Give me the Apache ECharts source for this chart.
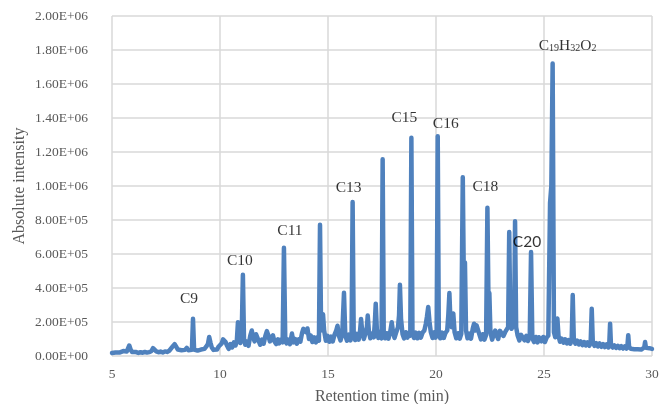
<!DOCTYPE html>
<html>
<head>
<meta charset="utf-8">
<style>
  html, body { margin: 0; padding: 0; background: #ffffff; }
  #chart { width: 664px; height: 404px; }
</style>
<script src="https://cdn.jsdelivr.net/npm/echarts@6/dist/echarts.min.js"></script>
</head>
<body>
<div id="chart"></div>
<script>
// Total ion chromatogram: [retention time (min), absolute intensity]
const signal = [
  [5.00,18e3],[5.08,26e3],[5.16,21e3],[5.25,27e3],[5.34,20e3],[5.43,25e3],[5.52,29e3],[5.60,22e3],
  [5.68,26e3],[5.74,34e3],[5.80,62e3],[5.86,38e3],[5.93,24e3],[6.02,19e3],[6.12,23e3],[6.22,18e3],
  [6.32,22e3],[6.42,19e3],[6.52,24e3],[6.62,20e3],[6.72,23e3],[6.82,28e3],[6.90,46e3],[6.97,40e3],
  [7.05,27e3],[7.15,22e3],[7.25,26e3],[7.35,21e3],[7.45,27e3],[7.55,24e3],[7.65,31e3],[7.74,42e3],
  [7.82,58e3],[7.90,70e3],[7.97,55e3],[8.05,38e3],[8.14,30e3],[8.22,34e3],[8.30,28e3],[8.38,36e3],
  [8.46,48e3],[8.54,34e3],[8.62,30e3],[8.70,36e3],[8.75,219e3],[8.80,38e3],[8.88,28e3],[8.96,32e3],
  [9.04,26e3],[9.12,38e3],[9.20,30e3],[9.28,42e3],[9.36,55e3],[9.44,70e3],[9.50,112e3],[9.56,78e3],
  [9.62,50e3],[9.70,36e3],[9.78,44e3],[9.86,38e3],[9.94,56e3],[10.02,48e3],[10.08,74e3],[10.14,98e3],
  [10.20,108e3],[10.26,82e3],[10.33,60e3],[10.40,42e3],[10.48,70e3],[10.56,50e3],[10.64,80e3],[10.72,62e3],
  [10.78,92e3],[10.83,198e3],[10.88,110e3],[10.94,76e3],[11.00,100e3],[11.06,478e3],[11.11,102e3],[11.17,66e3],
  [11.24,84e3],[11.32,60e3],[11.40,118e3],[11.47,150e3],[11.53,112e3],[11.60,86e3],[11.67,128e3],[11.72,136e3],
  [11.78,92e3],[11.86,66e3],[11.94,96e3],[12.02,72e3],[12.10,118e3],[12.17,146e3],[12.24,120e3],[12.31,86e3],
  [12.38,110e3],[12.45,122e3],[12.52,86e3],[12.60,70e3],[12.68,98e3],[12.74,74e3],[12.82,96e3],[12.90,80e3],
  [12.96,637e3],[13.02,112e3],[13.08,74e3],[13.16,96e3],[13.24,70e3],[13.33,132e3],[13.40,80e3],[13.48,100e3],
  [13.56,72e3],[13.64,98e3],[13.72,84e3],[13.80,136e3],[13.86,160e3],[13.92,170e3],[13.98,140e3],[14.05,162e3],
  [14.12,100e3],[14.20,120e3],[14.28,82e3],[14.36,110e3],[14.44,80e3],[14.52,112e3],[14.58,90e3],[14.63,772e3],
  [14.68,150e3],[14.73,210e3],[14.77,245e3],[14.82,150e3],[14.90,90e3],[14.98,118e3],[15.06,84e3],[15.14,114e3],
  [15.22,86e3],[15.30,124e3],[15.38,150e3],[15.44,178e3],[15.50,120e3],[15.58,92e3],[15.66,130e3],[15.74,372e3],
  [15.80,120e3],[15.88,90e3],[15.96,126e3],[16.04,92e3],[16.09,118e3],[16.14,906e3],[16.19,124e3],[16.26,94e3],
  [16.34,130e3],[16.42,96e3],[16.48,140e3],[16.53,218e3],[16.58,150e3],[16.66,100e3],[16.74,136e3],[16.80,170e3],
  [16.84,238e3],[16.89,150e3],[16.96,104e3],[17.04,132e3],[17.12,110e3],[17.17,200e3],[17.21,308e3],[17.26,160e3],
  [17.33,106e3],[17.40,134e3],[17.48,104e3],[17.53,1157e3],[17.58,136e3],[17.65,104e3],[17.72,134e3],[17.80,102e3],
  [17.88,140e3],[17.95,198e3],[18.01,140e3],[18.08,106e3],[18.16,140e3],[18.24,170e3],[18.29,240e3],[18.33,419e3],
  [18.38,220e3],[18.45,130e3],[18.52,104e3],[18.60,140e3],[18.68,108e3],[18.76,138e3],[18.81,120e3],[18.86,1284e3],
  [18.91,136e3],[18.98,106e3],[19.06,138e3],[19.14,104e3],[19.22,136e3],[19.30,108e3],[19.38,138e3],[19.46,150e3],
  [19.53,190e3],[19.58,230e3],[19.64,288e3],[19.70,200e3],[19.76,140e3],[19.84,106e3],[19.92,140e3],[19.98,108e3],
  [20.03,132e3],[20.08,1292e3],[20.13,136e3],[20.20,104e3],[20.28,138e3],[20.36,106e3],[20.44,136e3],[20.52,150e3],
  [20.57,240e3],[20.62,370e3],[20.67,200e3],[20.72,170e3],[20.80,250e3],[20.86,140e3],[20.94,104e3],[21.02,134e3],
  [21.10,102e3],[21.17,130e3],[21.24,1051e3],[21.29,420e3],[21.34,550e3],[21.39,150e3],[21.46,104e3],[21.54,132e3],
  [21.62,102e3],[21.70,160e3],[21.76,190e3],[21.82,150e3],[21.88,180e3],[21.94,190e3],[22.00,130e3],[22.08,98e3],
  [22.16,128e3],[22.24,96e3],[22.32,124e3],[22.38,872e3],[22.44,200e3],[22.47,370e3],[22.52,140e3],[22.60,96e3],
  [22.68,130e3],[22.74,150e3],[22.80,124e3],[22.88,100e3],[22.96,148e3],[23.04,150e3],[23.12,118e3],[23.20,140e3],
  [23.28,148e3],[23.34,170e3],[23.39,729e3],[23.44,200e3],[23.50,160e3],[23.56,180e3],[23.62,220e3],[23.66,792e3],
  [23.71,170e3],[23.78,120e3],[23.86,92e3],[23.94,124e3],[24.03,135e3],[24.10,92e3],[24.18,118e3],[24.26,88e3],
  [24.34,116e3],[24.40,612e3],[24.46,104e3],[24.54,82e3],[24.62,112e3],[24.70,80e3],[24.76,110e3],[24.81,120e3],
  [24.88,86e3],[24.96,112e3],[25.04,82e3],[25.12,108e3],[25.20,120e3],[25.28,900e3],[25.34,1000e3],[25.40,1720e3],
  [25.46,140e3],[25.52,110e3],[25.58,180e3],[25.62,220e3],[25.67,120e3],[25.74,84e3],[25.82,102e3],[25.90,78e3],
  [25.98,98e3],[26.06,74e3],[26.14,94e3],[26.22,72e3],[26.28,92e3],[26.33,359e3],[26.38,96e3],[26.46,72e3],
  [26.54,90e3],[26.62,68e3],[26.70,86e3],[26.78,64e3],[26.86,82e3],[26.94,62e3],[27.02,80e3],[27.10,60e3],
  [27.16,80e3],[27.21,278e3],[27.26,78e3],[27.34,60e3],[27.42,76e3],[27.50,56e3],[27.58,74e3],[27.66,54e3],
  [27.74,70e3],[27.82,52e3],[27.90,68e3],[27.98,50e3],[28.02,66e3],[28.06,190e3],[28.10,64e3],[28.18,50e3],
  [28.26,62e3],[28.34,48e3],[28.42,60e3],[28.50,46e3],[28.58,58e3],[28.66,44e3],[28.74,56e3],[28.82,44e3],
  [28.86,56e3],[28.90,122e3],[28.94,54e3],[29.02,42e3],[29.10,52e3],[29.18,40e3],[29.26,50e3],[29.34,39e3],
  [29.42,48e3],[29.50,38e3],[29.58,47e3],[29.64,50e3],[29.68,82e3],[29.72,48e3],[29.80,38e3],[29.88,46e3],
  [29.96,36e3],[30.00,42e3]
];

// Annotated compounds and the retention time of their apex
const peakNames = ['C9', 'C10', 'C11', 'C13', 'C15', 'C16', 'C18', 'C20', 'C19H32O2'];
const peakTimes = [8.75, 11.06, 12.96, 16.14, 18.86, 20.08, 22.38, 24.40, 25.40];

// Axis ranges and ticks
const xTicks = [5, 10, 15, 20, 25, 30];
const yMax = 2.0e6;
const yStep = 2.0e5;

// Label placement relative to each apex, in pixels [dx, dy]
const labelOffsets = {
  'C9': [-4, -20], 'C10': [-3, -14], 'C11': [6, -17], 'C13': [-4, -14],
  'C15': [-7, -20], 'C16': [8, -12], 'C18': [-2, -21], 'C20': [-4, -10],
  'C19H32O2': [15, -18]
};

const serif = '"Liberation Serif", "Times New Roman", serif';
const grey = '#595959';
const gridColor = '#d9d9d9';

function sci(v) {
  if (v === 0) return '0.00E+00';
  const e = Math.floor(Math.log10(Math.abs(v)) + 1e-9);
  const m = v / Math.pow(10, e);
  const sign = e < 0 ? '-' : '+';
  const ee = String(Math.abs(e)).padStart(2, '0');
  return m.toFixed(2) + 'E' + sign + ee;
}

function apexValue(t) {
  const p = signal.find(d => Math.abs(d[0] - t) < 1e-6);
  return p ? p[1] : 0;
}

function labelText(name) {
  if (name === 'C19H32O2') {
    return '{n|C}{s|19}{n|H}{s|32}{n|O}{s|2}';
  }
  if (name === 'C20') return '{sans|C20}';
  return '{n|' + name + '}';
}

const labelData = peakNames.map((name, i) => ({
  value: [peakTimes[i], apexValue(peakTimes[i])],
  name: name,
  label: { offset: labelOffsets[name] }
}));

const chart = echarts.init(document.getElementById('chart'), null, { renderer: 'canvas' });

chart.setOption({
  animation: false,
  backgroundColor: '#ffffff',
  grid: { left: 112, right: 12, top: 16, bottom: 48, containLabel: false, outerBoundsMode: 'none' },
  xAxis: {
    type: 'value',
    min: xTicks[0],
    max: xTicks[xTicks.length - 1],
    interval: xTicks[1] - xTicks[0],
    name: 'Retention time (min)',
    nameLocation: 'middle',
    nameGap: 33,
    nameMoveOverlap: false,
    nameTextStyle: { fontFamily: serif, fontSize: 16, color: grey },
    axisLine: { show: false },
    axisTick: { show: false },
    axisLabel: { fontFamily: serif, fontSize: 13.5, color: grey, margin: 11 },
    splitLine: { show: true, lineStyle: { color: gridColor, width: 1.5 } }
  },
  yAxis: {
    type: 'value',
    min: 0,
    max: yMax,
    interval: yStep,
    name: 'Absolute intensity',
    nameLocation: 'middle',
    nameGap: 84,
    nameRotate: 90,
    nameMoveOverlap: false,
    nameTextStyle: { fontFamily: serif, fontSize: 16, color: grey },
    axisLine: { show: false },
    axisTick: { show: false },
    axisLabel: { fontFamily: serif, fontSize: 13.5, color: grey, margin: 24, formatter: sci },
    splitLine: { show: true, lineStyle: { color: gridColor, width: 1.5 } }
  },
  series: [
    {
      type: 'line',
      data: signal,
      showSymbol: false,
      symbol: 'none',
      sampling: null,
      lineStyle: { color: '#4f81bd', width: 4.5, cap: 'round', join: 'round' },
      z: 3
    },
    {
      type: 'scatter',
      data: labelData,
      symbolSize: 1,
      itemStyle: { color: 'rgba(0,0,0,0)' },
      silent: true,
      z: 5,
      label: {
        show: true,
        position: 'inside',
        align: 'center',
        verticalAlign: 'middle',
        formatter: p => labelText(p.name),
        rich: {
          n: { fontFamily: serif, fontSize: 15.5, color: '#000000', lineHeight: 16, verticalAlign: 'top' },
          s: { fontFamily: serif, fontSize: 10, color: '#000000', lineHeight: 10, padding: [10, 0, 0, 0], verticalAlign: 'bottom' },
          sans: { fontFamily: 'Lato, "Liberation Sans", sans-serif', fontSize: 15.5, color: '#000000', lineHeight: 16 }
        }
      }
    }
  ]
});
</script>
</body>
</html>
